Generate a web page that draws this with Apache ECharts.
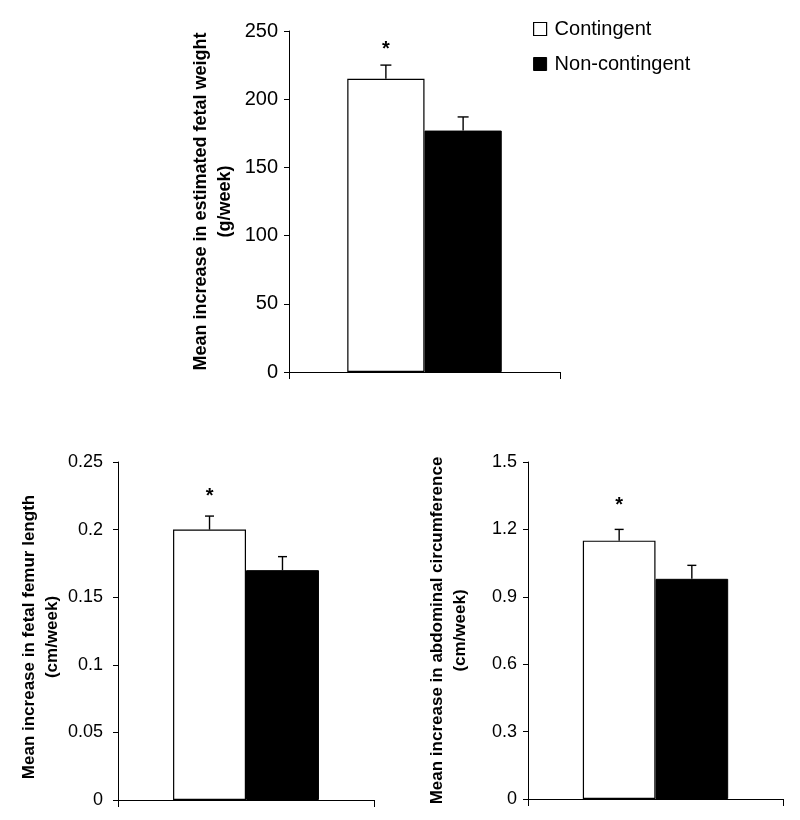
<!DOCTYPE html>
<html>
<head>
<meta charset="utf-8">
<script src="https://cdn.jsdelivr.net/npm/echarts@6/dist/echarts.min.js"></script>
<style>html,body{margin:0;padding:0;background:#fff;}#main{width:800px;height:820px;}</style>
</head>
<body>
<div id="main"></div>
<script>
// ---- Data ----
const groups = ['Contingent', 'Non-contingent'];
// Panel A: estimated fetal weight (g/week)
const weightMeans = [215, 177];
const weightErrors = [10, 10];
const weightSig = ['*', ''];
// Panel B: femur length (cm/week)
const femurMeans = [0.20, 0.17];
const femurErrors = [0.01, 0.01];
const femurSig = ['*', ''];
// Panel C: abdominal circumference (cm/week)
const abdMeans = [1.15, 0.98];
const abdErrors = [0.05, 0.06];
const abdSig = ['*', ''];

const panelTitles = [
  'Mean increase in estimated fetal weight\n(g/week)',
  'Mean increase in fetal femur length\n(cm/week)',
  'Mean increase in abdominal circumference\n(cm/week)'
];
const yMax = [250, 0.25, 1.5];
const yStep = [50, 0.05, 0.3];

const FONT = '"Liberation Sans", Arial, sans-serif';
const chart = echarts.init(document.getElementById('main'), null, {renderer: 'canvas'});

const grids = [
  {left: 289, right: 240, top: 31, bottom: 448},
  {left: 118, right: 426, top: 462, bottom: 20},
  {left: 528, right: 17, top: 462, bottom: 21}
];
const tickFont = [20, 18, 18];
const labelMargin = [11, 15, 11];
const nameFont = [18, 17, 17];
const nameGaps = [52, 54, 56];
const capW = [11, 9, 9];
const starOffset = [6, 10, 14];

function yFmt(i) {
  return function (v) {
    if (i === 1) return v === 0 ? '0' : String(+v.toFixed(2));
    if (i === 2) return v === 0 ? '0' : v.toFixed(1);
    return String(v);
  };
}

const xAxes = grids.map((g, i) => ({
  type: 'category', gridIndex: i, data: [''],
  axisLine: {lineStyle: {color: '#000', width: 1}},
  axisTick: {show: true, length: 7, lineStyle: {color: '#000'}},
  axisLabel: {show: false}
}));
const yAxes = grids.map((g, i) => ({
  type: 'value', gridIndex: i, min: 0, max: yMax[i], interval: yStep[i],
  name: panelTitles[i], nameLocation: 'middle', nameGap: nameGaps[i], nameRotate: 90,
  nameTextStyle: {fontFamily: FONT, fontWeight: 'bold', fontSize: nameFont[i], color: '#000', lineHeight: nameFont[i] * 1.35,
    padding: i === 1 ? [0, 12, 0, 0] : 0},
  axisLine: {show: true, lineStyle: {color: '#000', width: 1}},
  axisTick: {show: true, length: 5, lineStyle: {color: '#000'}},
  splitLine: {show: false},
  axisLabel: {fontFamily: FONT, fontSize: tickFont[i], color: '#000', margin: labelMargin[i], formatter: yFmt(i)}
}));

const datasets = [
  [weightMeans, weightErrors, weightSig],
  [femurMeans, femurErrors, femurSig],
  [abdMeans, abdErrors, abdSig]
];

const series = [];
datasets.forEach((d, i) => {
  const [means, errs, sig] = d;
  groups.forEach((gname, k) => {
    series.push({
      name: gname, type: 'bar', xAxisIndex: i, yAxisIndex: i,
      data: [means[k]], barGap: '0%', barCategoryGap: '43%',
      itemStyle: k === 0 ? {color: '#fff', borderColor: '#000', borderWidth: 1.2} : {color: '#000', borderColor: '#000', borderWidth: 1},
      emphasis: {disabled: true}, z: 2
    });
  });
  // error bars + significance markers
  const errData = means.map((m, k) => [k, m, errs[k], sig[k]]);
  series.push({
    type: 'custom', xAxisIndex: i, yAxisIndex: i, z: 3, silent: true,
    data: errData,
    renderItem: function (params, api) {
      const k = api.value(0);
      const m = api.value(1), e = api.value(2);
      const base = api.coord([0, m]);
      const size = api.size([1, 0]);
      const catW = size[0];
      const barsW = catW * 0.57;
      const bw = barsW / 2;
      const cx = base[0] - barsW / 2 + bw * (k + 0.5);
      const yTop = api.coord([0, m + e])[1];
      const yBar = base[1];
      const cw = capW[i];
      const children = [
        {type: 'line', shape: {x1: cx, y1: yBar, x2: cx, y2: yTop}, style: {stroke: '#000', lineWidth: 1.4}},
        {type: 'line', shape: {x1: cx - cw / 2, y1: yTop, x2: cx + cw / 2, y2: yTop}, style: {stroke: '#000', lineWidth: 1.4}}
      ];
      const s = errData[k][3];
      if (s) {
        children.push({type: 'text', x: cx, y: yTop - starOffset[i], style: {text: s, fontFamily: FONT, fontWeight: 'bold', fontSize: 20, fill: '#000', align: 'center', verticalAlign: 'bottom'}});
      }
      return {type: 'group', children: children};
    }
  });
});

chart.setOption({
  animation: false,
  backgroundColor: '#fff',
  grid: grids,
  xAxis: xAxes,
  yAxis: yAxes,
  legend: {
    data: [
      {name: 'Contingent', itemStyle: {color: '#fff', borderColor: '#000', borderWidth: 1.2}},
      {name: 'Non-contingent', itemStyle: {color: '#000', borderColor: '#000', borderWidth: 1}}
    ],
    orient: 'vertical', left: 528, top: 14, itemWidth: 13, itemHeight: 13, itemGap: 15,
    icon: 'rect', selectedMode: false,
    textStyle: {fontFamily: FONT, fontSize: 20, color: '#000', padding: [0, 0, 0, 3]}
  },
  series: series
});
</script>
</body>
</html>
